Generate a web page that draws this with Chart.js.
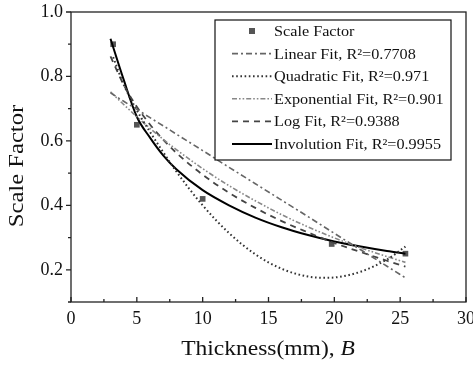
<!DOCTYPE html>
<html>
<head>
<meta charset="utf-8">
<script src="https://cdn.jsdelivr.net/npm/chart.js@4/dist/chart.umd.min.js"></script>
<style>
  html, body { margin: 0; padding: 0; background: #fff; }
  #wrap { width: 473px; height: 365px; position: relative; }
</style>
</head>
<body>
<div id="wrap"><canvas id="c" width="473" height="365"></canvas></div>
<script>
// measured points
const thickness = [3.2, 5, 10, 19.8, 25.4];
const scaleFactor = [0.9, 0.65, 0.42, 0.28, 0.25];

// fitted curves
const fitX = [3, 4, 5, 6, 7, 8, 10, 12, 14, 16, 18, 20, 22, 24, 25.4];
const linearFit = [0.749, 0.723, 0.698, 0.672, 0.647, 0.621, 0.570, 0.518, 0.467, 0.416, 0.365, 0.313, 0.262, 0.211, 0.175];
const quadX = [3.2, 4, 5, 6, 7, 8, 10, 12, 14, 16, 18, 19.3, 20, 22, 24, 25.4];
const quadraticFit = [0.86, 0.775, 0.695, 0.628, 0.565, 0.505, 0.400, 0.314, 0.248, 0.203, 0.179, 0.175, 0.176, 0.194, 0.232, 0.272];
const exponentialFit = [0.752, 0.713, 0.675, 0.639, 0.605, 0.573, 0.514, 0.461, 0.414, 0.371, 0.333, 0.299, 0.268, 0.241, 0.223];
const logFit = [0.862, 0.774, 0.706, 0.651, 0.604, 0.563, 0.495, 0.439, 0.392, 0.351, 0.316, 0.283, 0.255, 0.228, 0.210];
const involutionFit = [0.917, 0.79, 0.675, 0.61, 0.555, 0.512, 0.447, 0.40, 0.362, 0.332, 0.308, 0.288, 0.272, 0.258, 0.25];

const xTicks = [0, 5, 10, 15, 20, 25, 30];
const xMinor = [2.5, 7.5, 12.5, 17.5, 22.5, 27.5];
const yTicks = [0.2, 0.4, 0.6, 0.8, 1.0];
const yMinor = [0.1, 0.3, 0.5, 0.7, 0.9];

const legendLabels = ['Scale Factor', 'Linear Fit, R²=0.7708', 'Quadratic Fit, R²=0.971',
  'Exponential Fit, R²=0.901', 'Log Fit, R²=0.9388', 'Involution Fit, R²=0.9955'];

const serif = '"Liberation Serif", "Times New Roman", serif';
const pts = (xs, ys) => xs.map((x, i) => ({ x, y: ys[i] }));

function lineSet(label, xs, ys, color, dash, width) {
  return {
    label, data: pts(xs, ys), showLine: true, borderColor: color, borderWidth: width,
    borderDash: dash, pointRadius: 0, cubicInterpolationMode: 'monotone', fill: false
  };
}

const datasets = [
  lineSet(legendLabels[1], fitX, linearFit, '#666', [6, 3, 2, 3], 1.6),
  lineSet(legendLabels[2], quadX, quadraticFit, '#333', [1.6, 2.6], 2),
  lineSet(legendLabels[3], fitX, exponentialFit, '#888', [5, 2, 1.6, 2, 1.6, 2], 1.6),
  lineSet(legendLabels[4], fitX, logFit, '#444', [6, 5], 1.8),
  lineSet(legendLabels[5], fitX, involutionFit, '#000', [], 2),
  {
    label: legendLabels[0], data: pts(thickness, scaleFactor), showLine: false,
    pointStyle: 'rect', pointRadius: 4, backgroundColor: '#555', borderColor: '#555', borderWidth: 0
  }
];

// frame, ticks, axis titles and boxed legend
const decor = {
  id: 'decor',
  afterDatasetsDraw(chart) {
    const { ctx, chartArea: a, scales } = chart;
    const xs = scales.x, ys = scales.y;
    ctx.save();
    ctx.strokeStyle = '#222';
    ctx.lineWidth = 1.3;
    ctx.strokeRect(a.left, a.top, a.right - a.left, a.bottom - a.top);
    ctx.beginPath();
    xTicks.forEach(v => { const p = xs.getPixelForValue(v); ctx.moveTo(p, a.bottom); ctx.lineTo(p, a.bottom - 5); });
    xMinor.forEach(v => { const p = xs.getPixelForValue(v); ctx.moveTo(p, a.bottom); ctx.lineTo(p, a.bottom - 3); });
    yTicks.forEach(v => { const p = ys.getPixelForValue(v); ctx.moveTo(a.left, p); ctx.lineTo(a.left - 5, p); });
    yMinor.forEach(v => { const p = ys.getPixelForValue(v); ctx.moveTo(a.left, p); ctx.lineTo(a.left - 3, p); });
    ctx.stroke();

    // axis titles (stretched a little, like the scanned figure)
    ctx.fillStyle = '#111';
    ctx.textBaseline = 'middle';
    ctx.save();
    ctx.translate(268, 349);
    ctx.scale(1.12, 1);
    const t1 = 'Thickness(mm), ';
    ctx.font = 'italic 21px ' + serif;
    const wB = ctx.measureText('B').width;
    ctx.font = '21px ' + serif;
    const w1 = ctx.measureText(t1).width;
    const x0 = -(w1 + wB) / 2;
    ctx.textAlign = 'left';
    ctx.fillText(t1, x0, 0);
    ctx.font = 'italic 21px ' + serif;
    ctx.fillText('B', x0 + w1, 0);
    ctx.restore();

    ctx.save();
    ctx.translate(17, 166);
    ctx.rotate(-Math.PI / 2);
    ctx.scale(1.12, 1);
    ctx.font = '22px ' + serif;
    ctx.textAlign = 'center';
    ctx.fillText('Scale Factor', 0, 0);
    ctx.restore();

    // legend box
    const lx = 215, ly = 20, lw = 236, lh = 140;
    ctx.fillStyle = '#fff';
    ctx.fillRect(lx, ly, lw, lh);
    ctx.lineWidth = 1.2;
    ctx.strokeStyle = '#111';
    ctx.strokeRect(lx, ly, lw, lh);
    ctx.textBaseline = 'middle';
    ctx.textAlign = 'left';
    const order = [5, 0, 1, 2, 3, 4];
    order.forEach((di, row) => {
      const ds = chart.data.datasets[di];
      const y = 31 + row * 22.6;
      if (!ds.showLine) {
        ctx.fillStyle = ds.backgroundColor;
        ctx.fillRect(249, y - 3, 6, 6);
      } else {
        ctx.strokeStyle = ds.borderColor;
        ctx.lineWidth = ds.borderWidth;
        ctx.setLineDash(ds.borderDash);
        ctx.beginPath();
        ctx.moveTo(232, y);
        ctx.lineTo(272, y);
        ctx.stroke();
        ctx.setLineDash([]);
      }
      ctx.save();
      ctx.translate(274, y + 1);
      ctx.scale(1.08, 1);
      ctx.fillStyle = '#111';
      ctx.font = '15px ' + serif;
      ctx.fillText(ds.label, 0, 0);
      ctx.restore();
    });
    ctx.restore();
  }
};

new Chart(document.getElementById('c'), {
  type: 'scatter',
  data: { datasets },
  plugins: [decor],
  options: {
    responsive: false,
    animation: false,
    layout: { padding: { top: 12, right: 7, left: 0, bottom: 0 } },
    plugins: { legend: { display: false }, tooltip: { enabled: false } },
    scales: {
      x: {
        type: 'linear', min: 0, max: 30,
        afterFit: s => { s.height = 63; s.paddingLeft = 0; s.paddingRight = 0; },
        afterBuildTicks: s => { s.ticks = xTicks.map(v => ({ value: v })); },
        grid: { display: false, drawTicks: false },
        border: { display: false },
        ticks: { color: '#111', padding: 6, font: { family: serif, size: 18 } }
      },
      y: {
        type: 'linear', min: 0.1, max: 1.0,
        afterFit: s => { s.width = 71; s.paddingTop = 0; s.paddingBottom = 0; },
        afterBuildTicks: s => { s.ticks = yTicks.map(v => ({ value: v })); },
        grid: { display: false, drawTicks: false },
        border: { display: false },
        ticks: { color: '#111', padding: 8, font: { family: serif, size: 18 },
          callback: v => v.toFixed(1) }
      }
    }
  }
});
</script>
</body>
</html>
